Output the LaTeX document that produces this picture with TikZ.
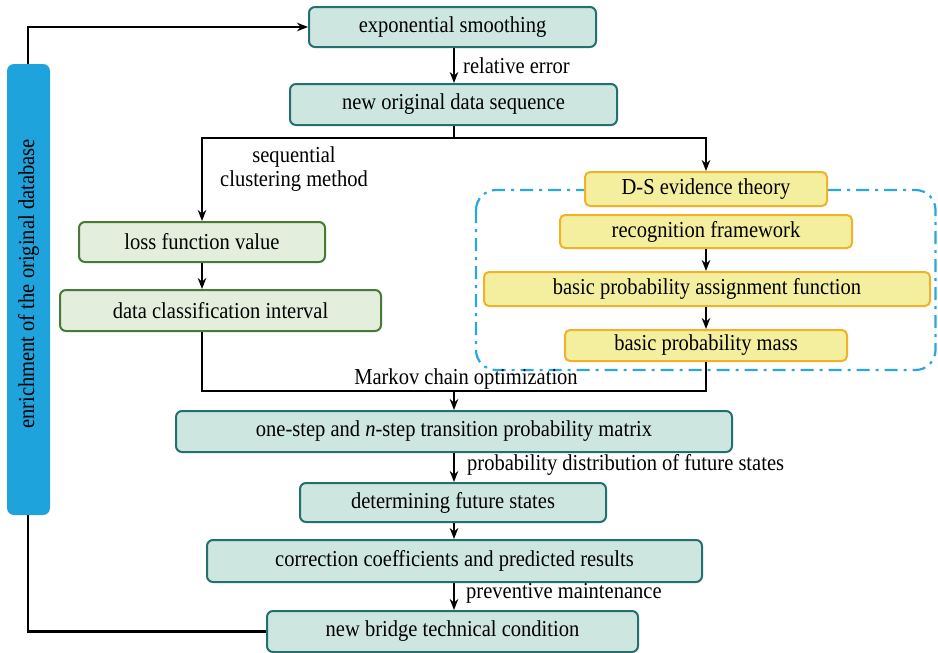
\documentclass[tikz,border=0pt]{standalone}
\usepackage{fontspec}
\setmainfont{Liberation Serif}[FakeStretch=0.9]
\usetikzlibrary{arrows.meta}
\definecolor{tealfill}{HTML}{CDE6DF}
\definecolor{tealline}{HTML}{23706E}
\definecolor{grnfill}{HTML}{E3EFDC}
\definecolor{grnline}{HTML}{467A38}
\definecolor{yelfill}{HTML}{F4EF9E}
\definecolor{yelline}{HTML}{F2B127}
\definecolor{barblue}{HTML}{1FA3DD}
\definecolor{dashblue}{HTML}{2AA7DF}
\begin{document}
\begin{tikzpicture}[x=1pt,y=-1pt,
  every node/.style={font=\fontsize{22.8}{24}\selectfont, inner sep=0pt},
  tbox/.style={draw=tealline, fill=tealfill, line width=2pt, rounded corners=6pt},
  gbox/.style={draw=grnline, fill=grnfill, line width=2pt, rounded corners=6pt},
  ybox/.style={draw=yelline, fill=yelfill, line width=2pt, rounded corners=5pt},
  conn/.style={line width=2.5pt, black},
  arr/.style={conn, -{Stealth[length=11pt,width=8.5pt]}},
  lbl/.style={text=black}
]
\useasboundingbox (0,0) rectangle (938,653);
% dashed region
\draw[dashblue, line width=2.2pt, rounded corners=20pt, dash pattern=on 13pt off 6pt on 3pt off 6pt] (476,190) rectangle (935.5,370);

\node[fill=barblue, rounded corners=7pt, minimum width=43pt, minimum height=451pt] (bar) at (28.5,289.5) {};
\node[rotate=90] (bartext) at (28.5,284) {enrichment of the original database};

\node[tbox, minimum width=287pt, minimum height=40pt] (es) at (452.5,27) {exponential smoothing};
\node[tbox, minimum width=327pt, minimum height=41pt] (nods) at (453.5,104.5) {new original data sequence};
\node[gbox, minimum width=246pt, minimum height=40pt] (loss) at (202,242) {loss function value};
\node[gbox, minimum width=321pt, minimum height=41pt] (dci) at (220.5,310.5) {data classification interval};
\node[ybox, minimum width=242pt, minimum height=34pt] (ds) at (706,189) {D-S evidence theory};
\node[ybox, minimum width=292pt, minimum height=33pt] (rf) at (706,231.5) {recognition framework};
\node[ybox, minimum width=446pt, minimum height=34pt] (bpaf) at (707,289) {basic probability assignment function};
\node[ybox, minimum width=282pt, minimum height=31pt] (bpm) at (706,345.5) {basic probability mass};
\node[tbox, minimum width=556pt, minimum height=41pt] (mat) at (454,431.5) {one-step and \textit{n}-step transition probability matrix};
\node[tbox, minimum width=306pt, minimum height=39pt] (dfs) at (453,502.5) {determining future states};
\node[tbox, minimum width=495pt, minimum height=42pt] (cc) at (454.5,561) {correction coefficients and predicted results};
\node[tbox, minimum width=371pt, minimum height=41pt] (nbtc) at (452.5,631.5) {new bridge technical condition};

\coordinate (split) at (454,138);
\coordinate (merge) at (454,391);

% connectors
\draw[arr] (bar.north -| 28,0) |- (es.west);
\draw[conn] (nbtc.west) -| (bar.south -| 28,0);
\draw[arr] (es.south -| 454,0) -- (nods.north -| 454,0);
\draw[conn] (nods.south -| 454,0) -- (split);
\draw[arr] (split) -| (loss.north);
\draw[arr] (split) -| (ds.north);
\draw[arr] (loss.south) -- (loss.south |- dci.north);
\draw[arr] (rf.south) -- (rf.south |- bpaf.north);
\draw[arr] (bpaf.south -| rf.south) -- (rf.south |- bpm.north);
\draw[conn] (loss.south |- dci.south) |- (merge);
\draw[conn] (bpm.south) |- (merge);
\draw[arr] (merge) -- (mat.north);
\draw[arr] (mat.south) -- (dfs.north -| mat.south);
\draw[arr] (dfs.south -| mat.south) -- (cc.north -| mat.south);
\draw[arr] (cc.south -| mat.south) -- (nbtc.north -| mat.south);

% labels
\node[lbl, anchor=west] (l1) at (463,66) {relative error};
\node[lbl, align=center] (l2) at (294,169) {sequential\\clustering method};
\node[lbl] (l3) at (466,379) {Markov chain optimization};
\node[lbl, anchor=west] (l4) at (467,465) {probability distribution of future states};
\node[lbl, anchor=west] (l5) at (466,593) {preventive maintenance};
\end{tikzpicture}
\end{document}
